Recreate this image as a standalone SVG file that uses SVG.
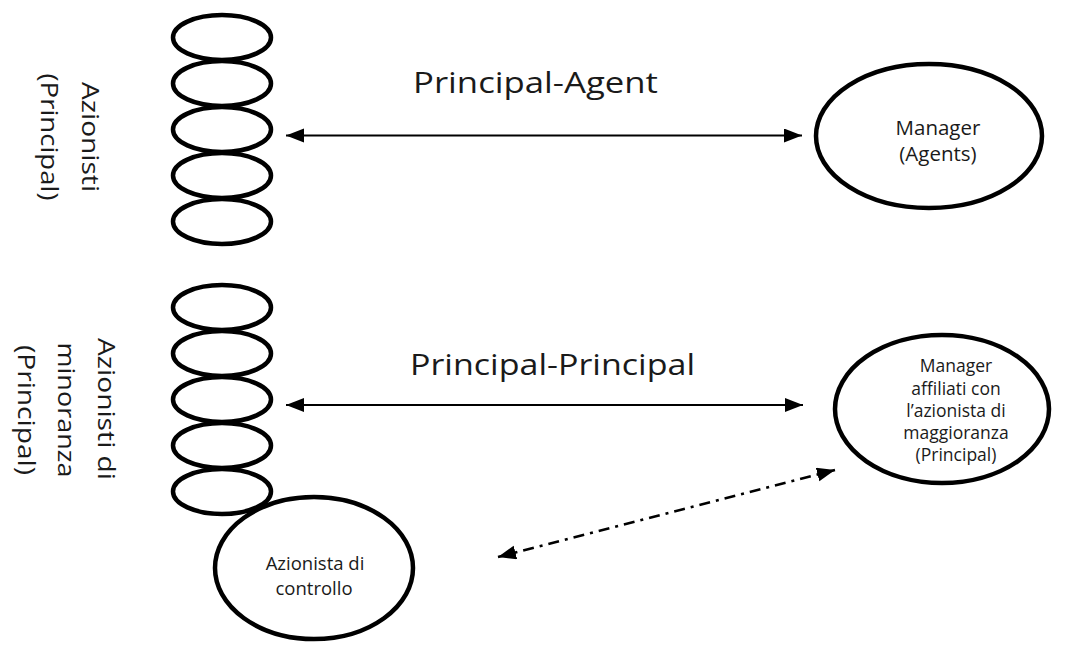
<svg xmlns="http://www.w3.org/2000/svg" width="1068" height="646" viewBox="0 0 1068 646">
<defs>
<style>
.sh{fill:none;stroke:#000;stroke-width:4.5}
.big{fill:none;stroke:#000;stroke-width:4.5}
.t{font-family:"Open Sans","Noto Sans",sans-serif;fill:#1a1a1a;font-weight:500}
.conn{stroke:#000;stroke-width:2;fill:none}
.dd{stroke:#000;stroke-width:2.5;fill:none;stroke-dasharray:11 6 3 6}
</style>
<marker id="ah" markerUnits="userSpaceOnUse" markerWidth="20" markerHeight="16" refX="18" refY="7" orient="auto-start-reverse">
<path d="M0,0 L18,7 L0,14 z" fill="#000"/>
</marker>
</defs>
<rect width="1068" height="646" fill="#fff"/>

<g id="azionisti-principal">
<ellipse class="sh" cx="222" cy="37.5" rx="49" ry="22.5"/>
<ellipse class="sh" cx="222" cy="83.5" rx="49" ry="22.5"/>
<ellipse class="sh" cx="222" cy="129.5" rx="49" ry="22.5"/>
<ellipse class="sh" cx="222" cy="175.5" rx="49" ry="22.5"/>
<ellipse class="sh" cx="222" cy="221.5" rx="49" ry="22.5"/>
<text class="t" font-size="24" text-anchor="middle" transform="translate(82,137) rotate(90)" textLength="110" lengthAdjust="spacingAndGlyphs">Azionisti</text>
<text class="t" font-size="24" text-anchor="middle" transform="translate(41,137) rotate(90)" textLength="127" lengthAdjust="spacingAndGlyphs">(Principal)</text>
</g>

<g id="azionisti-minoranza">
<ellipse class="sh" cx="222" cy="307.5" rx="49" ry="22.5"/>
<ellipse class="sh" cx="222" cy="353.5" rx="49" ry="22.5"/>
<ellipse class="sh" cx="222" cy="399.5" rx="49" ry="22.5"/>
<ellipse class="sh" cx="222" cy="445.5" rx="49" ry="22.5"/>
<ellipse class="sh" cx="222" cy="491.5" rx="49" ry="22.5"/>
<text class="t" font-size="24" text-anchor="middle" transform="translate(98,409) rotate(90)" textLength="142" lengthAdjust="spacingAndGlyphs">Azionisti di</text>
<text class="t" font-size="24" text-anchor="middle" transform="translate(58,410) rotate(90)" textLength="135" lengthAdjust="spacingAndGlyphs">minoranza</text>
<text class="t" font-size="24" text-anchor="middle" transform="translate(18,410) rotate(90)" textLength="130" lengthAdjust="spacingAndGlyphs">(Principal)</text>
</g>

<g id="manager-agents">
<ellipse class="big" cx="929" cy="136" rx="113" ry="72"/>
<text class="t" font-size="20.5" text-anchor="middle" x="938" y="135">Manager</text>
<text class="t" font-size="20.5" text-anchor="middle" x="938" y="161">(Agents)</text>
</g>

<g id="manager-affiliati">
<ellipse class="big" cx="942" cy="409" rx="107" ry="74"/>
<text class="t" font-size="17.5" text-anchor="middle" x="956" y="372">Manager</text>
<text class="t" font-size="17.5" text-anchor="middle" x="956" y="395">affiliati con</text>
<text class="t" font-size="17.5" text-anchor="middle" x="956" y="417">l’azionista di</text>
<text class="t" font-size="17.5" text-anchor="middle" x="956" y="439">maggioranza</text>
<text class="t" font-size="17.5" text-anchor="middle" x="956" y="461">(Principal)</text>
</g>

<g id="azionista-controllo">
<ellipse class="big" cx="314" cy="568" rx="99" ry="71"/>
<text class="t" font-size="18.5" text-anchor="middle" x="315" y="570">Azionista di</text>
<text class="t" font-size="18.5" text-anchor="middle" x="314" y="595">controllo</text>
</g>

<g id="labels">
<text class="t" font-size="29" x="413" y="93" textLength="245" lengthAdjust="spacingAndGlyphs">Principal-Agent</text>
<text class="t" font-size="29" x="410" y="375" textLength="285" lengthAdjust="spacingAndGlyphs">Principal-Principal</text>
</g>

<g id="connectors">
<line class="conn" x1="286" y1="135.5" x2="802" y2="135.5" marker-start="url(#ah)" marker-end="url(#ah)"/>
<line class="conn" x1="286" y1="405" x2="803" y2="405" marker-start="url(#ah)" marker-end="url(#ah)"/>
<line class="dd" x1="498" y1="557" x2="835" y2="470" marker-start="url(#ah)" marker-end="url(#ah)"/>
</g>
</svg>
